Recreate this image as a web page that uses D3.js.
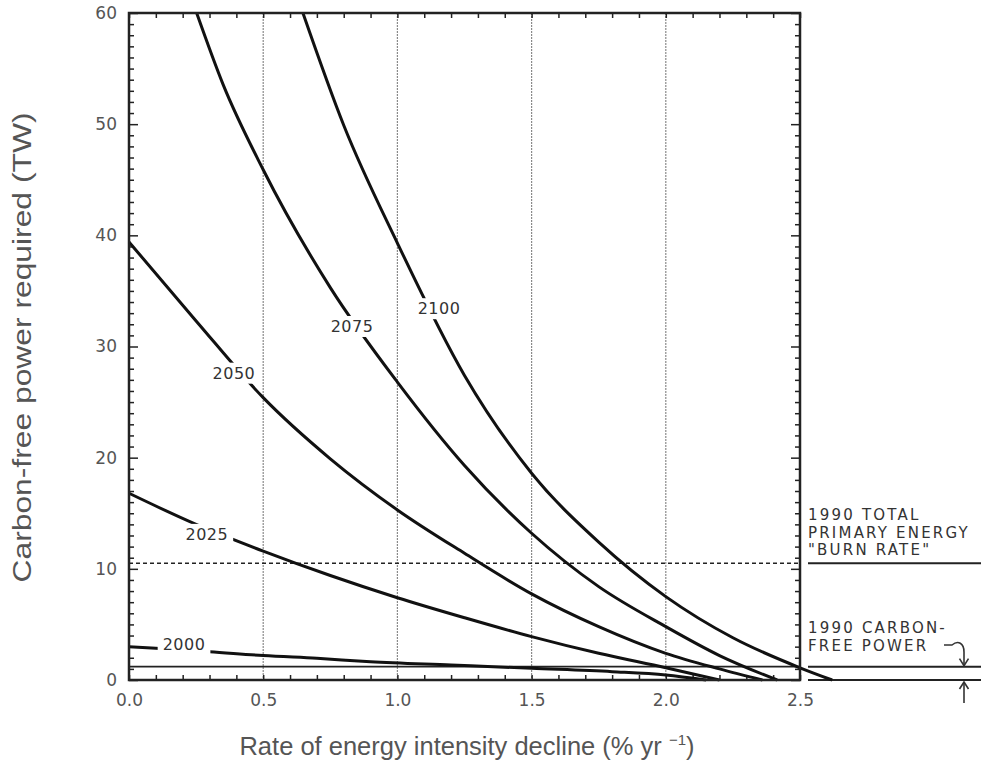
<!DOCTYPE html>
<html>
<head>
<meta charset="utf-8">
<script src="https://cdn.jsdelivr.net/npm/d3@7/dist/d3.min.js"></script>
<style>
  html, body { margin: 0; padding: 0; background: #fff; }
  svg { display: block; }
</style>
</head>
<body>
<svg id="chart" width="981" height="768"></svg>
<script>
// ---------------- DATA ----------------
const xMajorTicks = [0, 0.5, 1.0, 1.5, 2.0, 2.5];
const xTickLabels = ["0.0", "0.5", "1.0", "1.5", "2.0", "2.5"];
const yMajorTicks = [0, 10, 20, 30, 40, 50, 60];
const yTickLabels = ["0", "10", "20", "30", "40", "50", "60"];
const xGridLines = [0.5, 1.0, 1.5, 2.0];

const seriesNames = ["2000", "2025", "2050", "2075", "2100"];

const rate2000  = [0.0, 0.1, 0.3, 0.5, 0.7, 0.9, 1.2, 1.5, 1.8, 2.0, 2.15];
const power2000 = [3.0, 2.85, 2.55, 2.2, 1.95, 1.65, 1.35, 1.05, 0.75, 0.45, 0.0];

const rate2025  = [0.0, 0.25, 0.5, 0.75, 1.0, 1.25, 1.5, 1.75, 2.0, 2.2];
const power2025 = [16.8, 14.0, 11.6, 9.4, 7.4, 5.6, 3.9, 2.4, 1.1, 0.0];

const rate2050  = [0.0, 0.25, 0.5, 0.75, 1.0, 1.25, 1.5, 1.75, 2.0, 2.2, 2.36];
const power2050 = [39.4, 32.3, 25.4, 19.9, 15.3, 11.4, 7.75, 4.8, 2.4, 1.0, 0.0];

const rate2075  = [0.252, 0.35, 0.5, 0.75, 1.0, 1.25, 1.5, 1.75, 2.0, 2.2, 2.415];
const power2075 = [60, 53.6, 45.9, 35.3, 26.8, 19.3, 13.2, 8.4, 4.8, 2.2, 0.0];

const rate2100  = [0.648, 0.8, 1.0, 1.25, 1.5, 1.75, 2.0, 2.25, 2.5, 2.62];
const power2100 = [60, 49.9, 39.3, 27.4, 18.6, 12.4, 7.5, 3.8, 1.1, 0.0];

const labelRate  = [0.205, 0.29, 0.391, 0.831, 1.155];
const labelPower = [3.2, 13.1, 27.6, 31.8, 33.4];

const burnRate1990 = 10.5;      // 1990 total primary energy "burn rate" (TW)
const carbonFree1990 = 1.2;     // 1990 carbon-free power (TW)

const burnRateText = ["1990 TOTAL", "PRIMARY ENERGY", "\"BURN RATE\""];
const carbonFreeText = ["1990 CARBON-", "FREE POWER"];

const xTitle = "Rate of energy intensity decline (% yr ";
const xTitleSup = "\u22121";
const yTitle = "Carbon-free power required (TW)";

// ---------------- CHART ----------------
const svg = d3.select("#chart");
const pLeft = 129, pRight = 800, pTop = 13, pBottom = 680;
const x = d3.scaleLinear().domain([0, 2.5]).range([pLeft, pRight]);
const y = d3.scaleLinear().domain([0, 60]).range([pBottom, pTop]);

const series = [
  { name: seriesNames[0], xs: rate2000, ys: power2000 },
  { name: seriesNames[1], xs: rate2025, ys: power2025 },
  { name: seriesNames[2], xs: rate2050, ys: power2050 },
  { name: seriesNames[3], xs: rate2075, ys: power2075 },
  { name: seriesNames[4], xs: rate2100, ys: power2100 }
];

const fontBitmap = "'DejaVu Sans', sans-serif";

// grid lines
svg.append("g").selectAll("line").data(xGridLines).join("line")
  .attr("x1", d => x(d)).attr("x2", d => x(d))
  .attr("y1", y(60)).attr("y2", y(0))
  .attr("stroke", "#8a8a8a").attr("stroke-width", 1.2)
  .attr("stroke-dasharray", "2,1");

// reference lines inside plot
svg.append("line")
  .attr("x1", x(0)).attr("x2", x(2.5))
  .attr("y1", y(burnRate1990)).attr("y2", y(burnRate1990))
  .attr("stroke", "#222").attr("stroke-width", 1.6)
  .attr("stroke-dasharray", "4,3");
svg.append("line")
  .attr("x1", x(0)).attr("x2", x(2.5))
  .attr("y1", y(carbonFree1990)).attr("y2", y(carbonFree1990))
  .attr("stroke", "#222").attr("stroke-width", 1.6);

// reference lines outside the plot (right side)
const outX1 = pRight + 8, outX2 = 981;
[burnRate1990, carbonFree1990, 0].forEach(v => {
  svg.append("line")
    .attr("x1", outX1).attr("x2", outX2)
    .attr("y1", y(v)).attr("y2", y(v))
    .attr("stroke", "#222").attr("stroke-width", 2);
});

// ticks
const minorX = d3.range(0, 26).map(i => i / 10);
const minorY = d3.range(0, 61);

svg.append("g").attr("transform", `translate(0,${pBottom})`)
  .call(d3.axisBottom(x).tickValues(minorX).tickSize(-5).tickFormat(""))
  .call(g => g.select(".domain").remove())
  .call(g => g.selectAll("line").attr("stroke", "#222").attr("stroke-width", 1.5));
svg.append("g").attr("transform", `translate(0,${pTop})`)
  .call(d3.axisTop(x).tickValues(minorX).tickSize(-5).tickFormat(""))
  .call(g => g.select(".domain").remove())
  .call(g => g.selectAll("line").attr("stroke", "#222").attr("stroke-width", 1.5));

function yTickSize(d) { return d % 10 === 0 ? 9 : 5; }
svg.append("g").attr("transform", `translate(${pLeft},0)`)
  .call(d3.axisLeft(y).tickValues(minorY).tickSize(-5).tickFormat(""))
  .call(g => g.select(".domain").remove())
  .call(g => g.selectAll(".tick line").attr("x2", d => yTickSize(d)).attr("stroke", "#222").attr("stroke-width", 1.5));
svg.append("g").attr("transform", `translate(${pRight},0)`)
  .call(d3.axisRight(y).tickValues(minorY).tickSize(-5).tickFormat(""))
  .call(g => g.select(".domain").remove())
  .call(g => g.selectAll(".tick line").attr("x2", d => -yTickSize(d)).attr("stroke", "#222").attr("stroke-width", 1.5));

// tick labels via axes
svg.append("g").attr("transform", `translate(0,${pBottom})`)
  .call(d3.axisBottom(x).tickValues(xMajorTicks).tickSize(0).tickPadding(14)
        .tickFormat((d, i) => xTickLabels[i]))
  .call(g => g.select(".domain").remove())
  .call(g => g.selectAll("text").attr("font-family", fontBitmap).attr("font-size", 17)
        .attr("fill", "#555"));
svg.append("g").attr("transform", `translate(${pLeft},0)`)
  .call(d3.axisLeft(y).tickValues(yMajorTicks).tickSize(0).tickPadding(12)
        .tickFormat((d, i) => yTickLabels[i]))
  .call(g => g.select(".domain").remove())
  .call(g => g.selectAll("text").attr("font-family", fontBitmap).attr("font-size", 17)
        .attr("fill", "#555"));

// curves
const line = d3.line().x(d => x(d[0])).y(d => y(d[1])).curve(d3.curveMonotoneX);
svg.append("g").selectAll("path").data(series).join("path")
  .attr("d", s => line(s.xs.map((v, i) => [v, s.ys[i]])))
  .attr("fill", "none").attr("stroke", "#111").attr("stroke-width", 3)
  .attr("stroke-linejoin", "round");

// frame
svg.append("rect")
  .attr("x", pLeft).attr("y", pTop)
  .attr("width", pRight - pLeft).attr("height", pBottom - pTop)
  .attr("fill", "none").attr("stroke", "#222").attr("stroke-width", 2.5);

// curve labels with white knock-out
const lbl = svg.append("g");
seriesNames.forEach((name, i) => {
  const cx = x(labelRate[i]), cy = y(labelPower[i]);
  const t = lbl.append("text")
    .attr("x", cx).attr("y", cy)
    .attr("text-anchor", "middle").attr("dominant-baseline", "central")
    .attr("font-family", fontBitmap).attr("font-size", 16).attr("letter-spacing", 0.5)
    .attr("fill", "#333").text(name);
  const bb = t.node().getBBox();
  lbl.insert("rect", "text")
    .attr("x", bb.x - 5).attr("y", bb.y - 1)
    .attr("width", bb.width + 10).attr("height", bb.height + 2)
    .attr("fill", "#fff");
});

// right-side annotations
const annX = pRight + 8;
svg.append("g").selectAll("text").data(burnRateText).join("text")
  .attr("x", annX).attr("y", (d, i) => 520 + i * 17.5)
  .attr("font-family", fontBitmap).attr("font-size", 15).attr("letter-spacing", 2.2)
  .attr("fill", "#333").text(d => d);
svg.append("g").selectAll("text").data(carbonFreeText).join("text")
  .attr("x", annX).attr("y", (d, i) => 633 + i * 17.5)
  .attr("font-family", fontBitmap).attr("font-size", 15).attr("letter-spacing", 2.2)
  .attr("fill", "#333").text(d => d);

// arrows
const ay1 = y(carbonFree1990), ay0 = y(0);
svg.append("path")
  .attr("d", `M944,645 L952,645 C958,640 964,643 964,652 L964,${ay1 - 1}`)
  .attr("fill", "none").attr("stroke", "#333").attr("stroke-width", 1.6);
svg.append("path")
  .attr("d", `M959.5,${ay1 - 8} L964,${ay1 - 1} L968.5,${ay1 - 8}`)
  .attr("fill", "none").attr("stroke", "#333").attr("stroke-width", 1.6);
svg.append("path")
  .attr("d", `M964,${ay0 + 23} L964,${ay0 + 2}`)
  .attr("fill", "none").attr("stroke", "#333").attr("stroke-width", 1.6);
svg.append("path")
  .attr("d", `M959.5,${ay0 + 9} L964,${ay0 + 2} L968.5,${ay0 + 9}`)
  .attr("fill", "none").attr("stroke", "#333").attr("stroke-width", 1.6);

// axis titles
const xt = svg.append("text")
  .attr("x", (237 + 697) / 2).attr("y", 755)
  .attr("text-anchor", "middle")
  .attr("font-family", "'Liberation Sans', Arial, sans-serif").attr("font-size", 25.5)
  .attr("fill", "#555");
xt.append("tspan").text(xTitle);
xt.append("tspan").attr("font-size", 15).attr("dy", -10).text(xTitleSup);
xt.append("tspan").attr("dy", 10).text(")");

svg.append("text")
  .attr("transform", `translate(31,${(112 + 583) / 2}) rotate(-90)`)
  .attr("text-anchor", "middle")
  .attr("font-family", "'Liberation Sans', Arial, sans-serif").attr("font-size", 26)
  .attr("textLength", 470).attr("lengthAdjust", "spacingAndGlyphs")
  .attr("fill", "#555").text(yTitle);
</script>
</body>
</html>
